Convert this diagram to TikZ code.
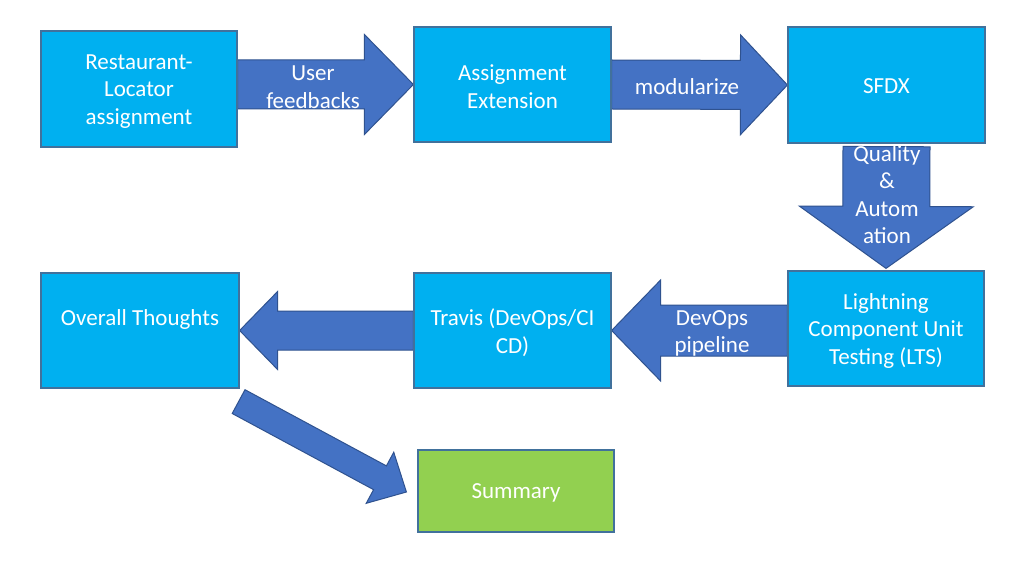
\documentclass[tikz,border=0pt]{standalone}
\usepackage{fontspec}
\setmainfont{Carlito}
\usetikzlibrary{calc}
\pgfdeclarelayer{background}
\pgfsetlayers{background,main}
\definecolor{boxfill}{HTML}{00B0F0}
\definecolor{boxline}{HTML}{41719C}
\definecolor{arrfill}{HTML}{4472C4}
\definecolor{arrline}{HTML}{2F528F}
\definecolor{sumfill}{HTML}{92D050}
\tikzset{
  stepbox/.style={draw=boxline, line width=1.2pt, fill=boxfill, inner sep=0pt},
  barrow/.style={draw=arrline, line width=1pt, fill=arrfill, line join=miter},
  alabel/.style={text=white, align=center, inner sep=0pt, font=\fontsize{23}{27.5}\selectfont},
}
\newcommand{\blockarr}[5]{%
  \coordinate (ba-t) at (#1);
  \coordinate (ba-p) at (#2);
  \coordinate (ba-n) at ($(ba-p)!#5!(ba-t)$);
  \draw[barrow] ($(ba-t)!#3!90:(ba-p)$) -- ($(ba-n)!#3!90:(ba-p)$) -- ($(ba-n)!#4!90:(ba-p)$)
    -- (ba-p) -- ($(ba-n)!#4!-90:(ba-p)$) -- ($(ba-n)!#3!-90:(ba-p)$) -- ($(ba-t)!#3!-90:(ba-p)$) -- cycle;
}
\begin{document}
\begin{tikzpicture}[x=1pt,y=-1pt]
\useasboundingbox (0,0) rectangle (1024,561);
% boxes
\node[stepbox, minimum width=196pt, minimum height=116pt] (b1) at (139,89) {};
\node[stepbox, minimum width=197pt, minimum height=115pt] (b2) at (512.5,84.5) {};
\node[stepbox, minimum width=197pt, minimum height=116pt] (b3) at (886.5,85) {};
\node[stepbox, minimum width=196pt, minimum height=115pt] (b4) at (886,328.5) {};
\node[stepbox, minimum width=197pt, minimum height=115pt] (b5) at (512.5,330.5) {};
\node[stepbox, minimum width=198pt, minimum height=115pt] (b6) at (140,330.5) {};
\node[stepbox, fill=sumfill, minimum width=196pt, minimum height=82pt] (b7) at (516,491) {};
% box texts
\node[alabel] (t1) at ($(b1)+(0,2.5)$) {Restaurant-\\Locator\\assignment};
\node[alabel] (t2) at ($(b2)+(0,2)$) {Assignment\\Extension};
\node[alabel] (t3) at ($(b3)+(0,1.5)$) {SFDX};
\node[alabel] (t4) at ($(b4)+(0,2)$) {Lightning\\Component Unit\\Testing (LTS)};
\node[alabel, anchor=base] (t5) at (512.5,353) {Travis (DevOps/CI\\CD)};
\node[alabel, anchor=base] (t6) at (140,325.5) {Overall Thoughts};
\node[alabel] (t7) at ($(b7)+(0,1.5)$) {Summary};
% arrows
\begin{pgfonlayer}{background}
\fill[white] (0,0) rectangle (1024,561);
\blockarr{b1.east |- b2.west}{b2.west}{24.5pt}{50pt}{49pt}
\blockarr{b2.east}{b3.west}{24.5pt}{50pt}{47pt}
\blockarr{$(b3.south)+(0,3)$}{$(b4.north)+(0,-2)$}{43.5pt}{87pt}{62pt}
\blockarr{b4.west |- b5.east}{b5.east}{25.5pt}{50.5pt}{49pt}
\blockarr{b5.west}{b6.east}{19.5pt}{39pt}{38pt}
\blockarr{$(b6.south east)+(-1,13)$}{$(b7.west)+(-11,1)$}{13.5pt}{29pt}{30pt}
\node[alabel] (l1) at (313,87) {User\\feedbacks};
\node[alabel] (l2) at (687,86.5) {modularize};
\node[alabel] (l3) at (887,194.5) {Quality\\\&\\Autom\\ation};
\node[alabel] (l4) at (712,333.5) {DevOps\\pipeline};
\end{pgfonlayer}
\end{tikzpicture}
\end{document}
